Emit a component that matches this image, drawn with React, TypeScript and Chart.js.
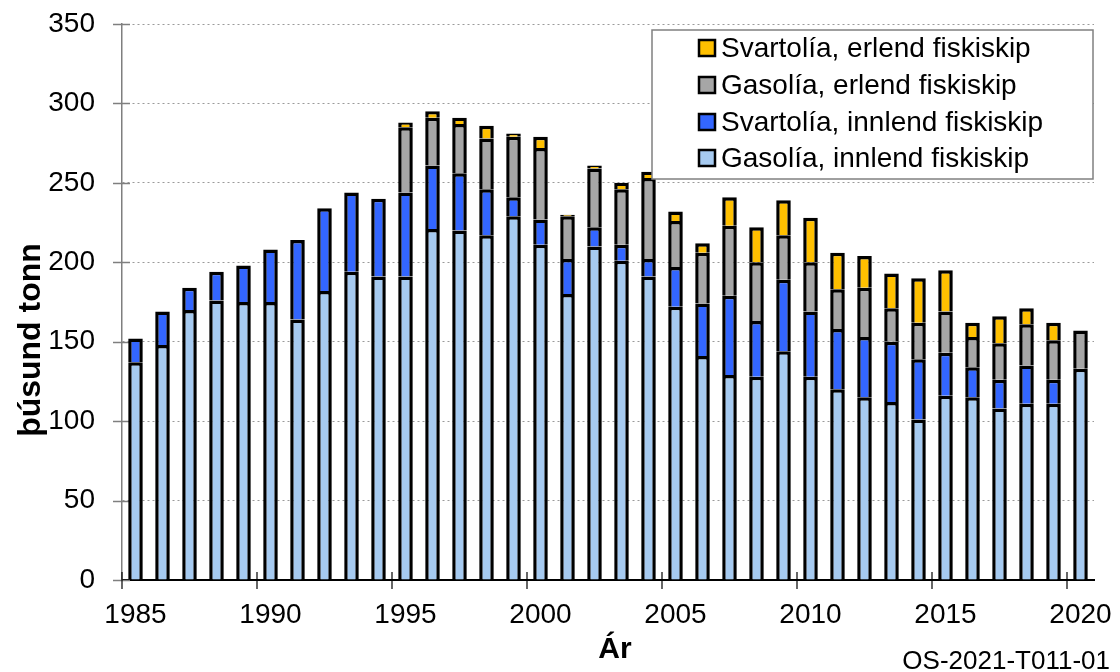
import React, { useEffect, useRef } from "react";
import { Chart, registerables } from "chart.js";

Chart.register(...registerables);

// ---- Data (þúsund tonn) ----
const years = [
  "1985", "1986", "1987", "1988", "1989", "1990", "1991", "1992", "1993", "1994",
  "1995", "1996", "1997", "1998", "1999", "2000", "2001", "2002", "2003", "2004",
  "2005", "2006", "2007", "2008", "2009", "2010", "2011", "2012", "2013", "2014",
  "2015", "2016", "2017", "2018", "2019", "2020",
];
const tickLabelYears = ["1985", "1990", "1995", "2000", "2005", "2010", "2015", "2020"];
const yTicks = [0, 50, 100, 150, 200, 250, 300, 350];

const gasoliaInnlend = [
  137, 148, 170, 176, 175, 175, 164, 182, 194, 191,
  191, 221, 220, 217, 229, 211, 180, 210, 201, 191,
  172, 141, 129, 128, 144, 128, 120, 115, 112, 101,
  116, 115, 108, 111, 111, 133,
];
const svartoliaInnlend = [
  15, 21, 14, 18, 23, 33, 50, 52, 50, 49,
  53, 40, 36, 29, 12, 16, 22, 12, 10, 11,
  25, 33, 50, 35, 45, 41, 38, 38, 38, 38,
  27, 19, 18, 24, 15, null,
];
const gasoliaErlend = [
  null, null, null, null, null, null, null, null, null, null,
  41, 30, 31, 32, 38, 45, 27, 37, 35, 51,
  29, 32, 44, 37, 28, 31, 25, 31, 21, 23,
  26, 19, 23, 26, 25, 24,
];
const svartoliaErlend = [
  null, null, null, null, null, null, null, null, null, null,
  3, 4, 4, 8, 2, 7, 1, 2, 4, 4,
  6, 6, 18, 22, 22, 28, 23, 20, 22, 28,
  26, 9, 17, 10, 11, null,
];

const seriesNames = [
  "Gasolía, innlend fiskiskip",
  "Svartolía, innlend fiskiskip",
  "Gasolía, erlend fiskiskip",
  "Svartolía, erlend fiskiskip",
];
const seriesColors = ["#A6CAF0", "#3366FF", "#A6A6A6", "#FFC000"];

const yTitle = "þúsund tonn";
const xTitle = "Ár";
const sourceCode = "OS-2021-T011-01";

const FONT = "'Liberation Sans', Arial, sans-serif";

const decorPlugin = {
  id: "decor",
  beforeDatasetsDraw(chart: any) {
    const { ctx } = chart;
    const xs = chart.scales.x;
    const ys = chart.scales.y;
    ctx.save();
    // y cross ticks
    ctx.strokeStyle = "#7f7f7f";
    ctx.lineWidth = 1.5;
    yTicks.forEach((v) => {
      const y = Math.round(ys.getPixelForValue(v)) + 0.5;
      ctx.beginPath();
      ctx.moveTo(xs.left - 9, y);
      ctx.lineTo(xs.left + 8, y);
      ctx.stroke();
    });
    // x cross ticks at category boundaries
    const cw = (xs.right - xs.left) / years.length;
    ctx.strokeStyle = "#000";
    ctx.lineWidth = 1.2;
    years.forEach((yr, i) => {
      if (!tickLabelYears.includes(yr)) return;
      const x = xs.getPixelForValue(i) - cw / 2;
      ctx.beginPath();
      ctx.moveTo(x, ys.bottom - 8);
      ctx.lineTo(x, ys.bottom + 9);
      ctx.stroke();
    });
    ctx.restore();
  },
  afterDraw(chart: any) {
    const { ctx } = chart;
    ctx.save();
    // Legend
    const lx = 652, ly = 30, lw = 441, lh = 149;
    ctx.fillStyle = "#fff";
    ctx.fillRect(lx, ly, lw, lh);
    ctx.strokeStyle = "#808080";
    ctx.lineWidth = 1.5;
    ctx.strokeRect(lx, ly, lw, lh);
    const rows = [48, 85, 122, 158];
    const order = [3, 2, 1, 0];
    ctx.font = `28px ${FONT}`;
    ctx.textBaseline = "middle";
    ctx.textAlign = "left";
    order.forEach((di, r) => {
      const cy = rows[r];
      ctx.fillStyle = seriesColors[di];
      ctx.fillRect(699, cy - 8, 16, 16);
      ctx.strokeStyle = "#000";
      ctx.lineWidth = 2.5;
      ctx.strokeRect(699, cy - 8, 16, 16);
      ctx.fillStyle = "#000";
      ctx.fillText(seriesNames[di], 721, cy + 1);
    });
    // Y title
    ctx.save();
    ctx.translate(31, 340);
    ctx.rotate(-Math.PI / 2);
    ctx.font = `bold 32px ${FONT}`;
    ctx.textAlign = "center";
    ctx.textBaseline = "middle";
    ctx.fillStyle = "#000";
    ctx.fillText(yTitle, 0, 0);
    ctx.restore();
    // X title
    ctx.font = `bold 30px ${FONT}`;
    ctx.textAlign = "center";
    ctx.textBaseline = "middle";
    ctx.fillStyle = "#000";
    ctx.fillText(xTitle, 615, 650);
    // Source code
    ctx.font = `26px ${FONT}`;
    ctx.textAlign = "right";
    ctx.textBaseline = "alphabetic";
    ctx.fillText(sourceCode, 1110, 669);
    ctx.restore();
  },
};

export default function App() {
  const ref = useRef<HTMLCanvasElement | null>(null);

  useEffect(() => {
    if (!ref.current) return;
    const data = [gasoliaInnlend, svartoliaInnlend, gasoliaErlend, svartoliaErlend];
    const chart = new Chart(ref.current, {
      type: "bar",
      data: {
        labels: years,
        datasets: data.map((d, i) => ({
          label: seriesNames[i],
          data: d,
          backgroundColor: seriesColors[i],
          borderColor: "#000",
          borderWidth: { top: 3.5, left: 3.5, right: 3.5, bottom: 0 },
          borderSkipped: false,
          inflateAmount: 0,
          barPercentage: 0.54,
          categoryPercentage: 1,
        })),
      },
      options: {
        animation: false,
        responsive: false,
        devicePixelRatio: 1,
        layout: { padding: { top: 24, right: 26, left: 0, bottom: 0 } },
        plugins: {
          legend: { display: false },
          tooltip: { enabled: false },
        },
        scales: {
          x: {
            type: "category",
            stacked: true,
            offset: true,
            grid: { display: false, drawTicks: false },
            border: { display: true, color: "#000", width: 2 },
            ticks: {
              autoSkip: false,
              maxRotation: 0,
              padding: 18,
              color: "#000",
              font: { family: FONT, size: 28 },
              callback: (_v: any, i: number) =>
                tickLabelYears.includes(years[i]) ? years[i] : "",
            },
            afterFit: (s: any) => {
              s.height = 92;
              s.paddingLeft = 0;
              s.paddingRight = 0;
            },
          },
          y: {
            stacked: true,
            min: 0,
            max: 350,
            grid: { color: "#9a9a9a", lineWidth: 1, drawTicks: false },
            border: { display: true, color: "#7f7f7f", width: 1.5, dash: [2, 3] },
            ticks: {
              stepSize: 50,
              padding: 27,
              color: "#000",
              font: { family: FONT, size: 28 },
            },
            afterFit: (s: any) => {
              s.width = 122;
              s.paddingTop = 0;
              s.paddingBottom = 0;
            },
          },
        },
      },
      plugins: [decorPlugin],
    });
    return () => chart.destroy();
  }, []);

  return (
    <div style={{ position: "absolute", left: 0, top: 0, width: 1120, height: 672, background: "#fff" }}>
      <canvas ref={ref} width={1120} height={672} style={{ width: 1120, height: 672, display: "block" }} />
    </div>
  );
}
